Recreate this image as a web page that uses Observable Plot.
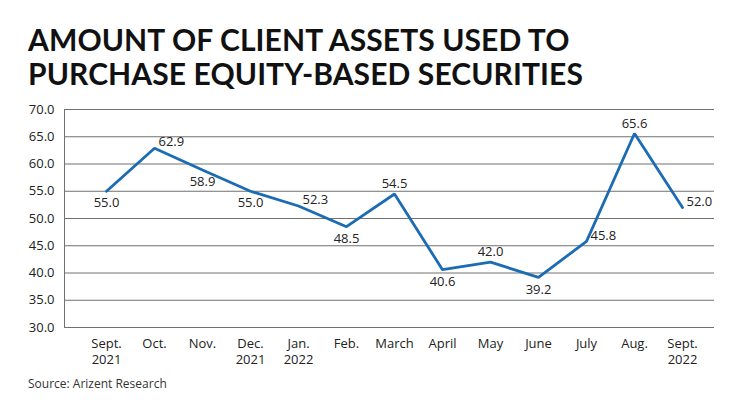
<!DOCTYPE html>
<html>
<head>
<meta charset="utf-8">
<script src="https://cdn.jsdelivr.net/npm/d3@7"></script>
<script src="https://cdn.jsdelivr.net/npm/@observablehq/plot@0.6"></script>
<style>
  html, body { margin: 0; padding: 0; background: #fff; }
  body { width: 740px; height: 415px; position: relative; overflow: hidden; font-family: Lato, "Noto Sans", sans-serif; }
  #title { position: absolute; left: 28px; top: 22px; font-weight: 700; font-size: 30px; line-height: 34px; color: #111; letter-spacing: 0.1px; white-space: nowrap; }
  #chart { position: absolute; left: 0; top: 98px; }
  #caption { position: absolute; left: 28px; top: 375px; font-family: "Open Sans", sans-serif; font-size: 12px; color: #333; }
</style>
</head>
<body>
<div id="title">AMOUNT OF CLIENT ASSETS USED TO<br>PURCHASE EQUITY-BASED SECURITIES</div>
<div id="chart"></div>
<div id="caption">Source: Arizent Research</div>
<script>
const months = ["Sept.\n2021", "Oct.", "Nov.", "Dec.\n2021", "Jan.\n2022", "Feb.", "March", "April", "May", "June", "July", "Aug.", "Sept.\n2022"];
const values = [55.0, 62.9, 58.9, 55.0, 52.3, 48.5, 54.5, 40.6, 42.0, 39.2, 45.8, 65.6, 52.0];
const yTicks = [30, 35, 40, 45, 50, 55, 60, 65, 70];

// label placement relative to each point (styling, not data)
const labelPlacement = ["below", "right", "below", "below", "right", "below", "above", "below", "above", "below", "right", "above", "right"];

const data = months.map((m, i) => ({month: m, value: values[i], place: labelPlacement[i]}));
const fmt = d => d.toFixed(1);

const chart = Plot.plot({
  width: 740,
  height: 280,
  marginLeft: 64,
  marginRight: 26,
  marginTop: 11,
  marginBottom: 51,
  x: {type: "point", domain: months, padding: 0, insetLeft: 37, insetRight: 28},
  y: {domain: [30, 70]},
  style: {fontFamily: "'Open Sans', Lato, sans-serif", fontSize: "13px", fontWeight: 500, color: "#222", background: "#fff"},
  marks: [
    Plot.ruleY(yTicks, {stroke: "#707070", strokeWidth: 1}),
    Plot.frame({anchor: "left", stroke: "#707070", strokeWidth: 1}),
    Plot.axisY(yTicks, {tickSize: 0, tickPadding: 10, tickFormat: fmt, label: null, fill: "#222"}),
    Plot.axisX({tickSize: 0, tickPadding: 8, label: null, lineHeight: 1.3, fill: "#222"}),
    Plot.line(data, {x: "month", y: "value", stroke: "#1b6cb3", strokeWidth: 2.8, strokeLinejoin: "miter"}),
    Plot.text(data.filter(d => d.place === "below"), {x: "month", y: "value", text: d => fmt(d.value), dy: 12, fill: "#222"}),
    Plot.text(data.filter(d => d.place === "above"), {x: "month", y: "value", text: d => fmt(d.value), dy: -10, fill: "#222"}),
    Plot.text(data.filter(d => d.place === "right"), {x: "month", y: "value", text: d => fmt(d.value), dx: 4, dy: -6, textAnchor: "start", fill: "#222"})
  ]
});
document.getElementById("chart").appendChild(chart);
</script>
</body>
</html>
